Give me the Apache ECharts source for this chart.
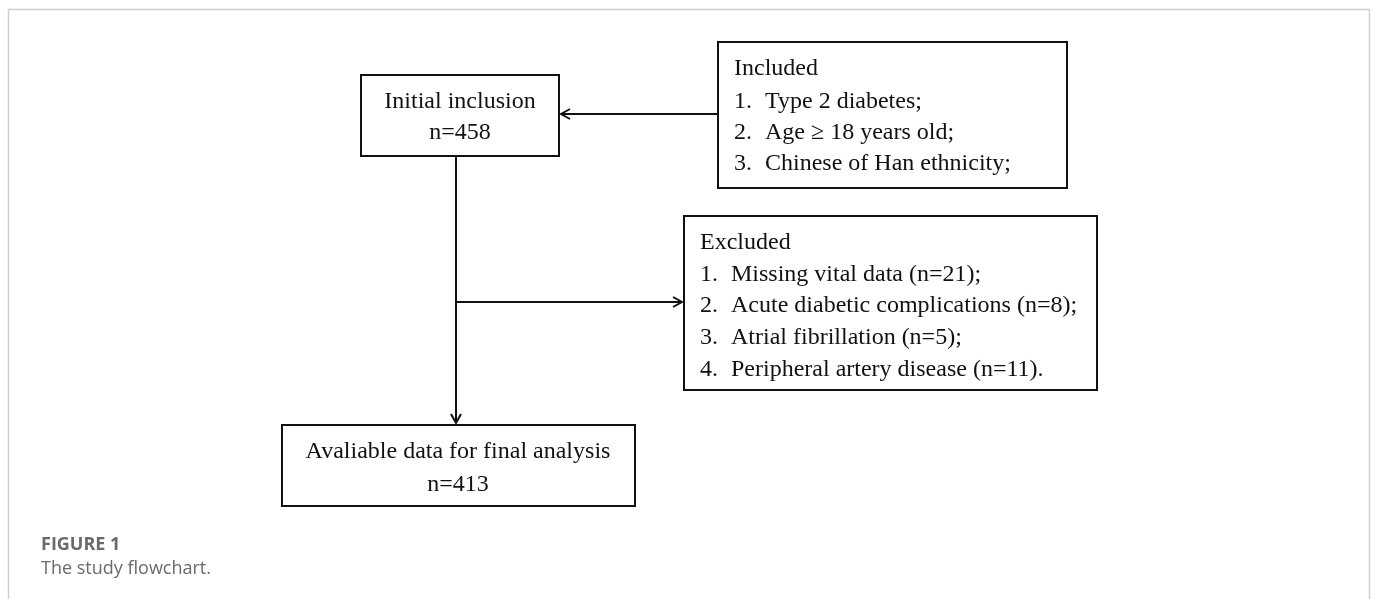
<!DOCTYPE html>
<html>
<head>
<meta charset="utf-8">
<script src="https://cdn.jsdelivr.net/npm/echarts@6/dist/echarts.min.js"></script>
<style>html,body{margin:0;padding:0;background:#fff}#c{width:1375px;height:599px}</style>
</head>
<body>
<div id="c"></div>
<script>
// ---- content ----
const initialLines = ['Initial inclusion', 'n=458'];
const includedTitle = 'Included';
const includedItems = ['Type 2 diabetes;', 'Age \u2265 18 years old;', 'Chinese of Han ethnicity;'];
const excludedTitle = 'Excluded';
const excludedItems = ['Missing vital data (n=21);', 'Acute diabetic complications (n=8);', 'Atrial fibrillation (n=5);', 'Peripheral artery disease (n=11).'];
const finalLines = ['Avaliable data for final analysis', 'n=413'];
const captionTitle = 'FIGURE 1';
const captionText = 'The study flowchart.';

// ---- layout / style ----
const SERIF = '"Liberation Serif", "Times New Roman", serif';
const FS = 24;
const INK = '#111';
const BW = 2;
const DY = 1.5;

function rect(x, y, w, h) {
  return { type: 'rect', shape: { x: x, y: y, width: w, height: h },
    style: { fill: '#fff', stroke: INK, lineWidth: BW } };
}
function txt(s, x, y, align) {
  return { type: 'text', x: x, y: y + DY,
    style: { text: s, font: FS + 'px ' + SERIF, fill: INK, align: align || 'left', verticalAlign: 'middle' } };
}
function line(pts) {
  return { type: 'polyline', shape: { points: pts }, style: { stroke: INK, lineWidth: BW, fill: null } };
}

const g = [];
// outer frame
g.push({ type: 'rect', shape: { x: 8.5, y: 9.5, width: 1361, height: 640 },
  style: { fill: null, stroke: '#cfcfcf', lineWidth: 1.5 } });

// connectors
g.push(line([[718, 114], [561, 114]]));
g.push(line([[570, 109], [561, 114], [570, 119]]));
g.push(line([[456, 156], [456, 423]]));
g.push(line([[451, 414], [456, 423], [461, 414]]));
g.push(line([[456, 302], [682, 302]]));
g.push(line([[673, 297], [682, 302], [673, 307]]));

// box: initial inclusion
g.push(rect(361, 75, 198, 81));
initialLines.forEach((s, i) => g.push(txt(s, 460, 100 + i * 31, 'center')));

// box: included
g.push(rect(718, 42, 349, 146));
g.push(txt(includedTitle, 734, 67));
includedItems.forEach((s, i) => {
  g.push(txt((i + 1) + '.', 734, 100 + i * 31));
  g.push(txt(s, 765, 100 + i * 31));
});

// box: excluded
g.push(rect(684, 216, 413, 174));
g.push(txt(excludedTitle, 700, 241));
excludedItems.forEach((s, i) => {
  g.push(txt((i + 1) + '.', 700, 273 + i * 31.7));
  g.push(txt(s, 731, 273 + i * 31.7));
});

// box: final
g.push(rect(282, 425, 353, 81));
finalLines.forEach((s, i) => g.push(txt(s, 458, 450 + i * 33, 'center')));

// caption
g.push({ type: 'text', x: 41, y: 545, style: { text: captionTitle, font: 'bold 18px "Open Sans", sans-serif', fill: '#6a6a6a', verticalAlign: 'middle' } });
g.push({ type: 'text', x: 41, y: 569, style: { text: captionText, font: '18px "Open Sans", sans-serif', fill: '#6a6a6a', verticalAlign: 'middle' } });

const chart = echarts.init(document.getElementById('c'), null, { renderer: 'canvas' });
chart.setOption({ backgroundColor: '#fff', animation: false, graphic: { elements: g } });
</script>
</body>
</html>
